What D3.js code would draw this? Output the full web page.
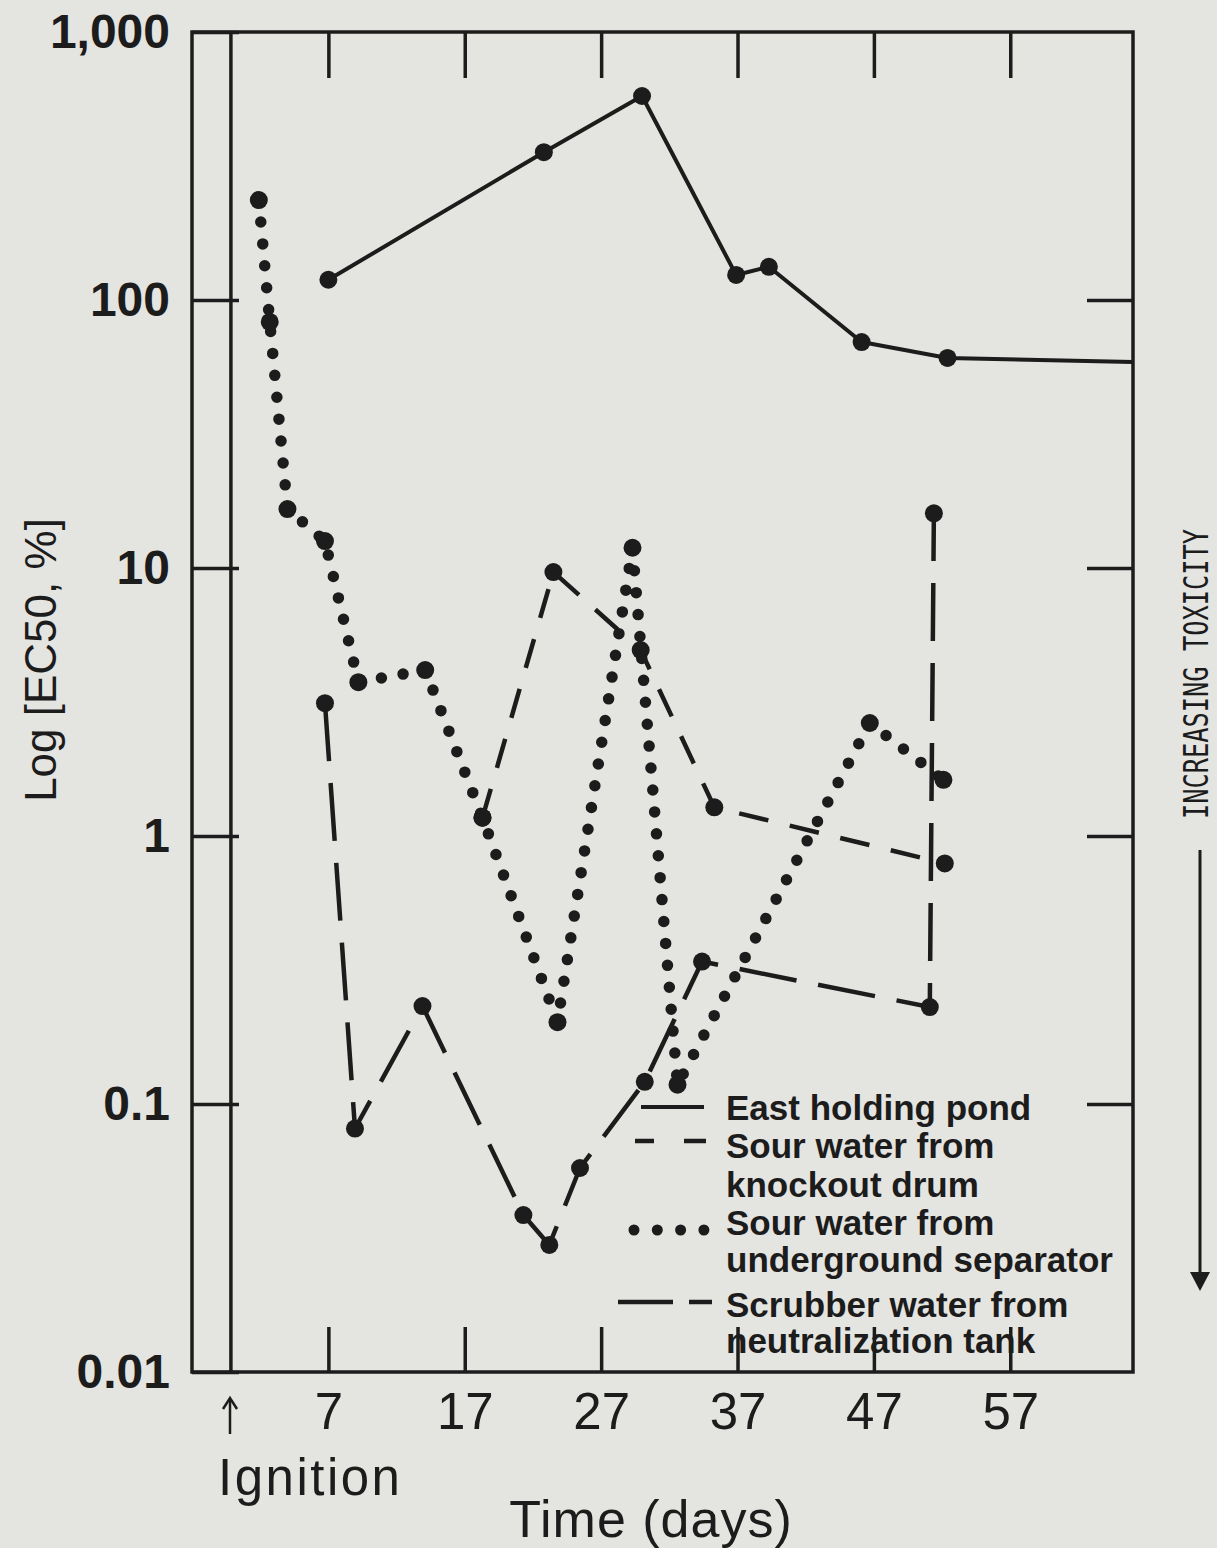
<!DOCTYPE html>
<html>
<head>
<meta charset="utf-8">
<script src="https://cdn.jsdelivr.net/npm/d3@7"></script>
<style>
body { margin: 0; background: #e4e4e0; }
</style>
</head>
<body>
<div id="chart"></div>
<script>
// values (days after ignition, EC50 in %)
var eastDays = [7.0, 22.8, 30.0, 36.9, 39.3, 46.1, 52.4, 66.0];
var eastEC50 = [119, 356, 577, 124, 133, 69.7, 60.8, 58.7];

var knockoutDays = [18.3, 23.5, 29.9, 35.3, 52.2];
var knockoutEC50 = [1.17, 9.66, 4.94, 1.28, 0.79];

var separatorDays = [1.9, 2.7, 4.0, 6.75, 9.2, 14.1, 18.3, 23.8, 29.3, 32.6, 46.7, 52.1];
var separatorEC50 = [236, 82.8, 16.6, 12.6, 3.75, 4.16, 1.17, 0.202, 11.9, 0.118, 2.64, 1.62];

var scrubberDays = [6.75, 8.95, 13.9, 21.3, 23.2, 25.45, 30.2, 34.4, 51.1, 51.4];
var scrubberEC50 = [3.13, 0.081, 0.232, 0.0385, 0.0298, 0.0577, 0.121, 0.34, 0.23, 16.0];

var xTicks = [7, 17, 27, 37, 47, 57];
var yTicks = [1000, 100, 10, 1, 0.1, 0.01];
var ignitionDay = 0;

var width = 1217;
var height = 1548;
var ink = "#1c1c1c";

var plotLeft = 192, plotRight = 1133, plotTop = 32, plotBottom = 1372;

var xScale = d3.scaleLinear()
                .domain([-3, 66])
                .range([plotLeft, plotRight]);

var yScale = d3.scaleLog()
                .domain([0.01, 1000])
                .range([plotBottom, plotTop]);

var svg = d3.select("#chart").append("svg")
            .attr("width", width)
            .attr("height", height);

svg.append("rect")
    .attr("width", width)
    .attr("height", height)
    .attr("fill", "#e4e4e0");

// frame
svg.append("rect")
    .attr("x", plotLeft)
    .attr("y", plotTop)
    .attr("width", plotRight - plotLeft)
    .attr("height", plotBottom - plotTop)
    .attr("fill", "none")
    .attr("stroke", ink)
    .attr("stroke-width", 3.5);

svg.append("line")
    .attr("x1", xScale(ignitionDay) - 2).attr("x2", xScale(ignitionDay) - 2)
    .attr("y1", plotTop).attr("y2", plotBottom)
    .attr("stroke", ink)
    .attr("stroke-width", 3.5);

// axes
var topAxis = svg.append("g")
    .attr("transform", "translate(0," + plotTop + ")")
    .call(d3.axisTop(xScale).tickValues(xTicks).tickSize(-46).tickFormat(""));

var bottomAxis = svg.append("g")
    .attr("transform", "translate(0," + plotBottom + ")")
    .call(d3.axisBottom(xScale).tickValues(xTicks).tickSize(-45).tickPadding(21));

var leftAxis = svg.append("g")
    .attr("transform", "translate(" + plotLeft + ",0)")
    .call(d3.axisLeft(yScale).tickValues(yTicks).tickSize(-47).tickPadding(22).tickFormat(d3.format(",")));

var rightAxis = svg.append("g")
    .attr("transform", "translate(" + plotRight + ",0)")
    .call(d3.axisRight(yScale).tickValues([100, 10, 1, 0.1]).tickSize(-46).tickFormat(""));

[topAxis, bottomAxis, leftAxis, rightAxis].forEach(function(g){
    g.select(".domain").remove();
    g.selectAll(".tick line").attr("stroke", ink).attr("stroke-width", 3.5);
});

bottomAxis.selectAll("text")
    .attr("fill", ink)
    .attr("font-family", "Liberation Sans, Arial, sans-serif")
    .attr("font-size", 51);

leftAxis.selectAll("text")
    .attr("fill", ink)
    .attr("font-family", "Liberation Sans, Arial, sans-serif")
    .attr("font-weight", "bold")
    .attr("font-size", 48);

// series
function toPoints(days, vals){
    return days.map(function(d, i){ return {day: d, v: vals[i]}; });
}

var series = [
    {name: "east", pts: toPoints(eastDays, eastEC50), dash: null, w: 4, cap: "butt", markers: eastDays.length - 1},
    {name: "knockout", pts: toPoints(knockoutDays, knockoutEC50), dash: "30 22", w: 4.5, cap: "butt", markers: knockoutDays.length},
    {name: "separator", pts: toPoints(separatorDays, separatorEC50), dash: "0 22", w: 11.5, cap: "round", markers: separatorDays.length},
    {name: "scrubber", pts: toPoints(scrubberDays, scrubberEC50), dash: "58 22", w: 4.5, cap: "butt", markers: scrubberDays.length}
];

var line = d3.line()
    .x(function(d){ return xScale(d.day); })
    .y(function(d){ return yScale(d.v); });

series.forEach(function(s){
    svg.append("path")
        .attr("d", line(s.pts))
        .attr("fill", "none")
        .attr("stroke", ink)
        .attr("stroke-width", s.w)
        .attr("stroke-linecap", s.cap)
        .attr("stroke-linejoin", "round")
        .attr("stroke-dasharray", s.dash);

    svg.selectAll(".pt-" + s.name)
        .data(s.pts.slice(0, s.markers)).enter().append("circle")
        .attr("class", "pt-" + s.name)
        .attr("cx", function(d){ return xScale(d.day); })
        .attr("cy", function(d){ return yScale(d.v); })
        .attr("r", 9)
        .attr("fill", ink);
});

// legend
var legendFont = "Liberation Sans, Arial, sans-serif";
var legendLines = [
    ["East holding pond"],
    ["Sour water from", "knockout drum"],
    ["Sour water from", "underground separator"],
    ["Scrubber water from", "neutralization tank"]
];
var legendBase = [[1120], [1158, 1197], [1235, 1272], [1317, 1353]];

legendLines.forEach(function(rows, i){
    rows.forEach(function(r, j){
        svg.append("text")
            .attr("x", 726)
            .attr("y", legendBase[i][j])
            .attr("font-family", legendFont)
            .attr("font-weight", "bold")
            .attr("font-size", 35)
            .attr("fill", ink)
            .text(r);
    });
});

svg.append("line").attr("x1", 641).attr("x2", 704).attr("y1", 1107).attr("y2", 1107)
    .attr("stroke", ink).attr("stroke-width", 4);
svg.append("line").attr("x1", 635).attr("x2", 706).attr("y1", 1141).attr("y2", 1141)
    .attr("stroke", ink).attr("stroke-width", 4.5).attr("stroke-dasharray", "19 30 22");
svg.append("line").attr("x1", 634).attr("x2", 704).attr("y1", 1230).attr("y2", 1230)
    .attr("stroke", ink).attr("stroke-width", 11).attr("stroke-linecap", "round")
    .attr("stroke-dasharray", "0 23.3");
svg.append("line").attr("x1", 618).attr("x2", 712).attr("y1", 1302).attr("y2", 1302)
    .attr("stroke", ink).attr("stroke-width", 4.5).attr("stroke-dasharray", "55 16 23");

// titles
svg.append("text")
    .attr("transform", "translate(56,660) rotate(-90)")
    .attr("text-anchor", "middle")
    .attr("font-family", "Liberation Sans, Arial, sans-serif")
    .attr("font-size", 44)
    .attr("fill", ink)
    .text("Log [EC50, %]");

// ignition arrow
svg.append("line")
    .attr("x1", 230).attr("x2", 230)
    .attr("y1", 1400).attr("y2", 1434)
    .attr("stroke", ink).attr("stroke-width", 2.5);
svg.append("path")
    .attr("d", "M223,1409 L230,1398 L237,1409")
    .attr("fill", "none")
    .attr("stroke", ink).attr("stroke-width", 2.5);

svg.append("text")
    .attr("x", 218)
    .attr("y", 1495)
    .attr("font-family", "Liberation Sans, Arial, sans-serif")
    .attr("font-size", 51)
    .attr("letter-spacing", 2.5)
    .attr("fill", ink)
    .text("Ignition");

svg.append("text")
    .attr("x", 651)
    .attr("y", 1537)
    .attr("text-anchor", "middle")
    .attr("font-family", "Liberation Sans, Arial, sans-serif")
    .attr("font-size", 52)
    .attr("letter-spacing", 1)
    .attr("fill", ink)
    .text("Time (days)");

svg.append("text")
    .attr("transform", "translate(1208,674) rotate(-90)")
    .attr("text-anchor", "middle")
    .attr("font-family", "DejaVu Sans Mono, monospace")
    .attr("font-size", 34)
    .attr("textLength", 290)
    .attr("lengthAdjust", "spacingAndGlyphs")
    .attr("fill", ink)
    .text("INCREASING TOXICITY");

svg.append("line")
    .attr("x1", 1200).attr("x2", 1200)
    .attr("y1", 850).attr("y2", 1276)
    .attr("stroke", ink).attr("stroke-width", 3);
svg.append("path")
    .attr("d", "M1190,1272 L1210,1272 L1200,1291 Z")
    .attr("fill", ink);
</script>
</body>
</html>
